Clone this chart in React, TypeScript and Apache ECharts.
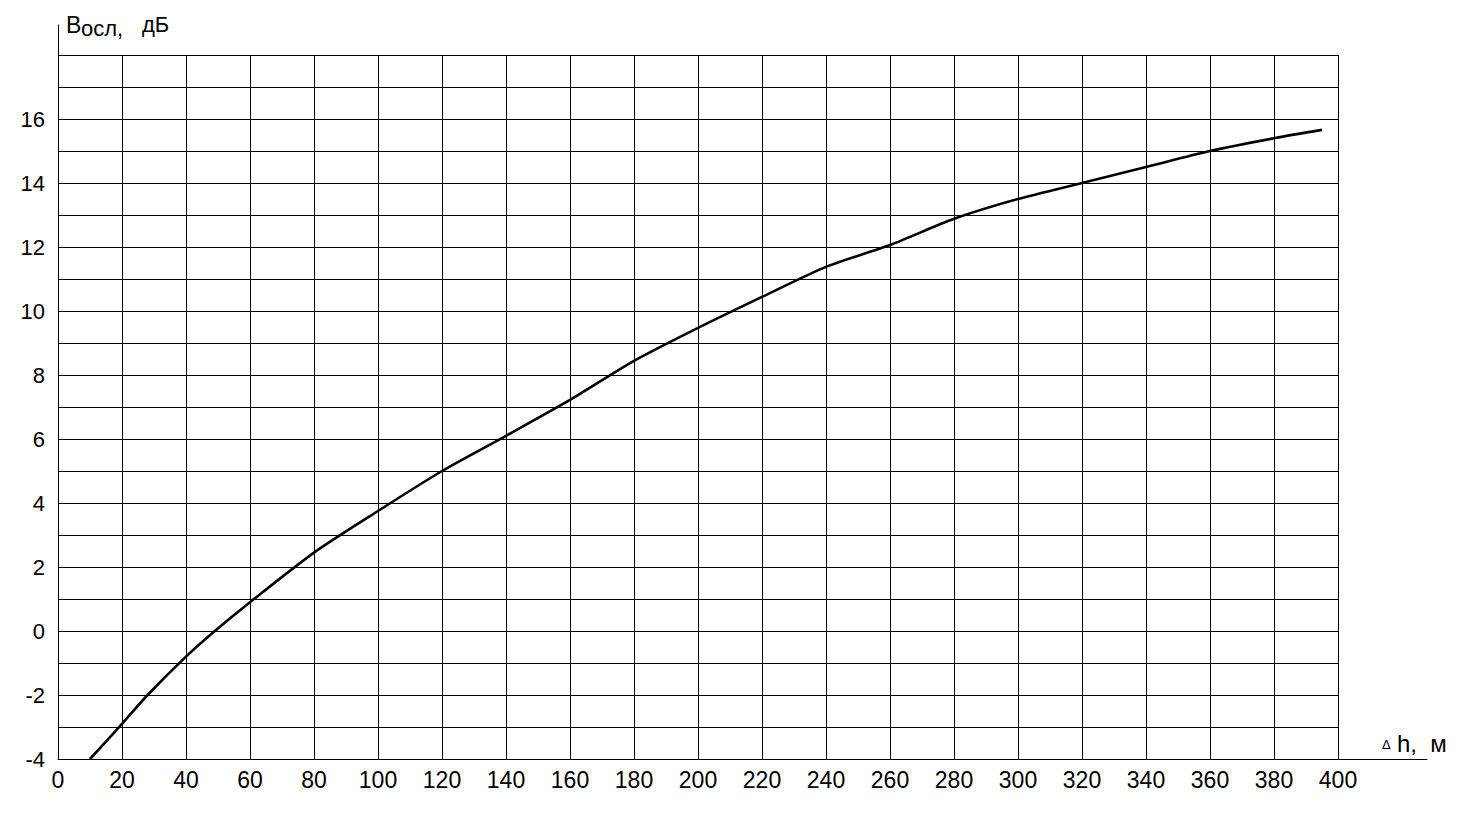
import React, { useEffect, useRef } from "react";
import * as echarts from "echarts";

// Curve: attenuation B_осл (dB) vs Δh (m)
const xValues = [10, 20, 28, 40, 49, 60, 80, 100, 120, 140, 160, 180, 200, 220, 240, 260, 280, 300, 320, 340, 360, 380, 395];
const yValues = [-4, -2.9, -2, -0.8, 0, 0.9, 2.45, 3.75, 5.0, 6.1, 7.22, 8.44, 9.47, 10.44, 11.38, 12.06, 12.88, 13.5, 14.0, 14.5, 15.0, 15.4, 15.66];

// Axis ranges and tick labels
const xMin = 0;
const xMax = 400;
const xStep = 20;
const yMin = -4;
const yMax = 18;
const yStep = 1;
const yTickLabels = [-4, -2, 0, 2, 4, 6, 8, 10, 12, 14, 16];

const FONT = "'Liberation Sans', Arial, sans-serif";

export default function App() {
  const ref = useRef<HTMLDivElement>(null);

  useEffect(() => {
    document.body.style.margin = "0";
    if (!ref.current) return;
    const chart = echarts.init(ref.current, undefined, { renderer: "svg" });
    const data = xValues.map((x, i) => [x, yValues[i]]);

    chart.setOption({
      animation: false,
      backgroundColor: "#ffffff",
      grid: [
        { left: 58, right: 136, top: 55, bottom: 72, containLabel: false },
        { left: 58, right: 47, top: 25, bottom: 72, containLabel: false },
      ],
      xAxis: [
        {
          type: "value",
          gridIndex: 0,
          min: xMin,
          max: xMax,
          interval: xStep,
          axisLine: { show: false },
          axisTick: { show: false },
          splitLine: { show: true, lineStyle: { color: "#000", width: 1 } },
          axisLabel: {
            color: "#000",
            fontFamily: FONT,
            fontSize: 23,
            margin: 9,
          },
        },
        {
          type: "value",
          gridIndex: 1,
          min: 0,
          max: 1,
          axisLine: { show: true, lineStyle: { color: "#000", width: 1 } },
          axisTick: { show: false },
          splitLine: { show: false },
          axisLabel: { show: false },
        },
      ],
      yAxis: [
        {
          type: "value",
          gridIndex: 0,
          min: yMin,
          max: yMax,
          interval: yStep,
          axisLine: { show: false },
          axisTick: { show: false },
          splitLine: { show: true, lineStyle: { color: "#000", width: 1 } },
          axisLabel: {
            color: "#000",
            fontFamily: FONT,
            fontSize: 22,
            margin: 13,
            formatter: (v: number) => (yTickLabels.indexOf(v) >= 0 ? String(v) : ""),
          },
        },
        {
          type: "value",
          gridIndex: 1,
          min: 0,
          max: 1,
          axisLine: { show: true, lineStyle: { color: "#000", width: 1 } },
          axisTick: { show: false },
          splitLine: { show: false },
          axisLabel: { show: false },
        },
      ],
      series: [
        {
          type: "line",
          xAxisIndex: 0,
          yAxisIndex: 0,
          data,
          smooth: 0.25,
          showSymbol: false,
          symbol: "none",
          lineStyle: { color: "#000", width: 2.6 },
        },
      ],
      graphic: [
        { type: "text", x: 66, y: 13, style: { text: "B", fontSize: 23, fontFamily: FONT, fill: "#000", verticalAlign: "top" } },
        { type: "text", x: 81, y: 17, style: { text: "осл,", fontSize: 22, fontFamily: FONT, fill: "#000", verticalAlign: "top" } },
        { type: "text", x: 142, y: 13, style: { text: "дБ", fontSize: 22, fontFamily: FONT, fill: "#000", verticalAlign: "top" } },
        { type: "text", x: 1382, y: 751, style: { text: "Δ", fontSize: 13, fontFamily: FONT, fill: "#000", verticalAlign: "bottom" } },
        { type: "text", x: 1397, y: 755, style: { text: "h,  м", fontSize: 24, fontFamily: FONT, fill: "#000", verticalAlign: "bottom" } },
      ],
    });

    return () => chart.dispose();
  }, []);

  return <div ref={ref} style={{ width: 1474, height: 831 }} />;
}
